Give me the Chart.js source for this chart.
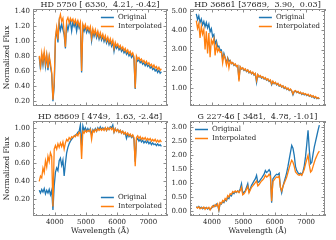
<!DOCTYPE html>
<html>
<head>
<meta charset="utf-8">
<script src="https://cdn.jsdelivr.net/npm/chart.js@4.4.1/dist/chart.umd.min.js"></script>
<style>
  html, body { margin: 0; padding: 0; background: #fff; }
  #wrap { position: relative; width: 336px; height: 240px; overflow: hidden; }
  .panel { position: absolute; }
</style>
</head>
<body>
<div id="wrap">
  <div class="panel" style="left:0;top:0;width:168px;height:120px"><canvas id="c1"></canvas></div>
  <div class="panel" style="left:168px;top:0;width:168px;height:120px"><canvas id="c2"></canvas></div>
  <div class="panel" style="left:0;top:110px;width:168px;height:130px"><canvas id="c3"></canvas></div>
  <div class="panel" style="left:168px;top:110px;width:168px;height:130px"><canvas id="c4"></canvas></div>
</div>
<script>
// wavelength grid (Angstrom)
const wavelength = [
  3500,3540,3580,3620,3660,3700,3740,3780,3820,3860,
  3900,3940,3980,4020,4060,4100,4140,4180,4220,4260,
  4300,4340,4380,4420,4460,4500,4540,4580,4620,4660,
  4700,4740,4780,4820,4860,4900,4940,4980,5020,5060,
  5100,5140,5180,5220,5260,5300,5340,5380,5420,5460,
  5500,5540,5580,5620,5660,5700,5740,5780,5820,5860,
  5900,5940,5980,6020,6060,6100,6140,6180,6220,6260,
  6300,6340,6380,6420,6460,6500,6540,6580,6620,6660,
  6700,6740,6780,6820,6860,6900,6940,6980,7020,7060,
  7100,7140,7180,7220,7260,7300,7340,7380,7420
];

// HD 5750
const hd5750Orig = [
  0.78,0.62,0.82,0.68,0.84,0.66,0.80,0.61,0.78,0.66,
  0.56,0.20,0.40,1.02,1.15,0.98,1.24,1.14,1.22,1.15,
  1.08,0.90,1.22,1.14,1.22,1.26,1.13,1.25,1.19,1.24,
  1.13,1.24,1.17,1.22,0.58,1.19,1.13,1.19,1.11,1.16,
  1.11,1.16,1.00,1.13,1.06,1.12,1.04,1.10,1.02,1.08,
  1.01,1.06,0.99,1.04,0.97,1.02,0.95,1.00,0.93,0.98,
  0.86,0.95,0.90,0.93,0.88,0.91,0.86,0.89,0.84,0.87,
  0.82,0.85,0.80,0.83,0.78,0.81,0.76,0.36,0.77,0.73,
  0.75,0.71,0.73,0.69,0.71,0.67,0.70,0.66,0.68,0.64,
  0.66,0.62,0.64,0.60,0.62,0.58,0.61,0.57,0.59
];
const hd5750Interp = [
  0.80,0.66,0.84,0.72,0.86,0.70,0.82,0.64,0.80,0.70,
  0.58,0.22,0.45,1.05,1.18,1.02,1.28,1.35,1.26,1.30,
  1.12,0.92,1.27,1.31,1.24,1.30,1.26,1.29,1.23,1.28,
  1.22,1.27,1.20,1.25,0.60,1.22,1.17,1.22,1.15,1.19,
  1.14,1.19,1.04,1.16,1.09,1.15,1.07,1.13,1.05,1.11,
  1.04,1.09,1.02,1.07,1.00,1.05,0.98,1.03,0.96,1.01,
  0.90,0.98,0.93,0.96,0.91,0.94,0.89,0.92,0.87,0.90,
  0.85,0.88,0.83,0.86,0.81,0.84,0.79,0.37,0.80,0.76,
  0.78,0.74,0.76,0.72,0.74,0.70,0.73,0.69,0.71,0.67,
  0.69,0.65,0.68,0.64,0.66,0.62,0.65,0.61,0.63
];

// HD 36861
const hd36861Orig = [
  4.85,4.55,4.75,4.40,4.58,4.28,4.45,4.18,4.40,4.12,
  4.32,3.92,4.08,3.68,3.78,3.28,3.45,3.15,3.18,2.95,
  2.98,2.50,2.80,2.58,2.30,2.58,2.40,2.44,2.27,2.32,
  2.18,2.24,2.12,2.16,1.45,2.10,1.99,2.04,1.92,1.98,
  1.86,1.93,1.80,1.87,1.74,1.81,1.68,1.75,1.30,1.69,
  1.58,1.63,1.52,1.58,1.47,1.52,1.41,1.46,1.35,1.40,
  1.18,1.34,1.23,1.29,1.17,1.23,1.11,1.17,1.05,1.11,
  0.99,1.05,0.93,0.99,0.88,0.94,0.85,0.66,0.82,0.86,
  0.77,0.82,0.73,0.78,0.68,0.74,0.66,0.70,0.62,0.67,
  0.58,0.63,0.54,0.59,0.48,0.55,0.46,0.50,0.44
];
const hd36861Interp = [
  4.50,4.10,4.35,3.60,4.20,3.80,4.05,3.00,3.95,2.80,
  3.85,2.60,3.50,3.30,3.55,2.70,3.25,2.90,3.05,2.85,
  2.88,2.30,2.72,2.55,2.20,2.50,2.05,2.42,2.28,2.33,
  2.20,2.26,2.13,2.18,1.35,2.11,2.00,2.06,1.94,2.00,
  1.88,1.95,1.82,1.89,1.76,1.83,1.70,1.77,1.40,1.71,
  1.60,1.66,1.55,1.60,1.49,1.55,1.43,1.49,1.37,1.43,
  1.22,1.36,1.25,1.31,1.19,1.25,1.13,1.19,1.07,1.13,
  1.01,1.07,0.95,1.01,0.90,0.96,0.87,0.70,0.84,0.88,
  0.79,0.84,0.75,0.80,0.70,0.76,0.68,0.72,0.64,0.69,
  0.60,0.65,0.56,0.61,0.52,0.57,0.48,0.52,0.46
];

// HD 88609
const hd88609Orig = [
  0.30,0.27,0.31,0.28,0.32,0.26,0.30,0.27,0.31,0.25,
  0.30,0.08,0.35,0.50,0.55,0.52,0.63,0.66,0.58,0.64,
  0.46,0.60,0.72,0.78,0.82,0.85,0.87,0.89,0.90,0.92,
  0.92,0.95,0.96,1.03,0.80,1.02,0.97,1.00,0.96,0.99,
  0.96,0.99,0.92,0.98,0.96,0.99,0.96,1.00,0.98,1.01,
  0.98,1.00,0.98,1.00,0.97,1.00,0.98,1.01,1.00,1.03,
  0.95,0.99,0.96,0.98,0.95,0.97,0.94,0.96,0.93,0.94,
  0.88,0.93,0.90,0.92,0.89,0.91,0.87,0.62,0.86,0.88,
  0.85,0.87,0.84,0.86,0.83,0.85,0.83,0.85,0.82,0.84,
  0.81,0.83,0.81,0.82,0.80,0.82,0.80,0.81,0.79
];
const hd88609Interp = [
  0.40,0.46,0.44,0.55,0.50,0.63,0.56,0.68,0.62,0.72,
  0.68,0.12,0.76,0.80,0.76,0.82,0.78,0.83,0.79,0.84,
  0.76,0.83,0.87,0.85,0.89,0.87,0.90,0.89,0.91,0.90,
  0.93,0.91,0.95,0.93,0.65,0.96,0.94,0.97,0.95,0.97,
  0.96,0.98,0.87,0.97,0.95,0.98,0.96,0.99,0.97,0.99,
  0.97,0.99,0.97,1.00,0.97,1.00,0.98,1.00,0.98,1.00,
  0.95,0.99,0.96,0.98,0.95,0.97,0.94,0.96,0.93,0.95,
  0.92,0.94,0.91,0.93,0.90,0.92,0.89,0.57,0.89,0.91,
  0.88,0.90,0.87,0.89,0.87,0.89,0.86,0.88,0.86,0.88,
  0.85,0.87,0.85,0.87,0.84,0.86,0.84,0.86,0.84
];

// G 227-46
const g22746Orig = [
  0.15,0.12,0.16,0.10,0.14,0.08,0.12,0.09,0.13,0.07,
  0.11,0.05,0.10,0.15,0.20,0.17,0.25,0.22,0.02,0.28,
  0.25,0.34,0.30,0.40,0.36,0.48,0.44,0.58,0.54,0.66,
  0.62,0.70,0.66,0.72,0.68,0.80,0.98,0.62,0.68,0.72,
  0.85,0.98,0.70,0.80,0.92,1.00,1.08,1.15,1.28,1.02,
  1.05,1.12,1.18,1.25,1.32,1.45,1.38,1.42,1.48,1.40,
  0.30,1.15,1.22,1.28,1.32,1.30,1.35,0.85,0.65,0.88,
  1.05,1.20,1.38,1.60,1.85,2.10,2.35,2.25,2.00,1.60,
  1.45,1.38,1.32,1.36,1.30,1.42,1.62,1.95,2.40,2.90,
  2.20,1.70,1.75,2.05,2.30,2.50,2.70,2.90,3.08
];
const g22746Interp = [
  0.14,0.10,0.15,0.08,0.12,0.10,0.14,0.06,0.12,0.09,
  0.13,0.04,0.12,0.18,0.14,0.22,0.18,0.26,0.05,0.30,
  0.26,0.38,0.33,0.45,0.40,0.55,0.50,0.62,0.60,0.70,
  0.66,0.72,0.68,0.72,0.66,0.74,0.85,0.58,0.62,0.68,
  0.78,0.88,0.65,0.75,0.85,0.90,0.96,1.02,1.08,0.90,
  0.95,1.02,1.08,1.12,1.18,1.28,1.22,1.25,1.32,1.25,
  0.35,1.05,1.12,1.18,1.22,1.20,1.25,0.85,0.72,0.88,
  1.00,1.10,1.22,1.38,1.55,1.70,1.82,1.75,1.60,1.40,
  1.35,1.30,1.28,1.32,1.28,1.38,1.50,1.68,1.85,2.00,
  1.65,1.40,1.45,1.60,1.75,1.88,1.98,2.08,2.15
];

// tick labels
const xTicks = [4000, 5000, 6000, 7000];
const yTicks5750 = [0.2, 0.4, 0.6, 0.8, 1.0, 1.2, 1.4];
const yTicks36861 = [1, 2, 3, 4, 5];
const yTicks88609 = [0.2, 0.4, 0.6, 0.8, 1.0];
const yTicks22746 = [0.0, 0.5, 1.0, 1.5, 2.0, 2.5, 3.0];

const BLUE = '#1f77b4';
const ORANGE = '#ff7f0e';
const TEXT = '#262626';
const FRAME = '#8c8c8c';
const SERIF = '"DejaVu Serif", serif';

// frame + inward ticks (major and minor) on all four sides, plus the panel title
const frameTicks = {
    id: 'frameTicks',
    afterDatasetsDraw(chart, args, o) {
        const { ctx, chartArea: a, scales: { x, y } } = chart;
        ctx.save();
        ctx.strokeStyle = FRAME;
        ctx.lineWidth = 1;
        ctx.beginPath();
        const marks = (scale, vals, len, isX) => {
            vals.forEach(v => {
                const p = Math.round(scale.getPixelForValue(v)) + 0.5;
                if (isX) {
                    ctx.moveTo(p, a.bottom); ctx.lineTo(p, a.bottom - len);
                    ctx.moveTo(p, a.top); ctx.lineTo(p, a.top + len);
                } else {
                    ctx.moveTo(a.left, p); ctx.lineTo(a.left + len, p);
                    ctx.moveTo(a.right, p); ctx.lineTo(a.right - len, p);
                }
            });
        };
        const minors = (scale, step) => {
            const out = [];
            for (let v = Math.ceil(scale.min / step) * step; v <= scale.max; v += step) out.push(v);
            return out;
        };
        marks(x, minors(x, o.xMinor), 2, true);
        marks(y, minors(y, o.yMinor), 2, false);
        marks(x, xTicks, 3.5, true);
        marks(y, o.yMajor, 3.5, false);
        ctx.stroke();
        ctx.strokeRect(Math.round(a.left) + 0.5, Math.round(a.top) + 0.5,
            Math.round(a.right - a.left) - 1, Math.round(a.bottom - a.top) - 1);

        ctx.fillStyle = TEXT;
        ctx.font = '8px ' + SERIF;
        ctx.textAlign = 'center';
        ctx.textBaseline = 'middle';
        ctx.fillText(o.title, (a.left + a.right) / 2, a.top - 4.5);
        ctx.restore();
    }
};

// legend drawn inside the axes
const innerLegend = {
    id: 'innerLegend',
    afterDraw(chart, args, o) {
        const { ctx, chartArea: a } = chart;
        ctx.save();
        ctx.font = '7px ' + SERIF;
        const w = ctx.measureText('Interpolated').width;
        const textX = o.corner === 'tl' ? a.left + 22 : a.right - 5 - w;
        const rowY = o.corner === 'br' ? a.bottom - 19 : a.top + 7.5;
        chart.data.datasets.forEach((ds, i) => {
            const yy = Math.round(rowY + i * 9) + 0.5;
            ctx.strokeStyle = ds.borderColor;
            ctx.lineWidth = 1.5;
            ctx.beginPath();
            ctx.moveTo(textX - 17, yy);
            ctx.lineTo(textX - 4, yy);
            ctx.stroke();
            ctx.fillStyle = TEXT;
            ctx.textBaseline = 'middle';
            ctx.fillText(ds.label, textX, yy);
        });
        ctx.restore();
    }
};

function makePanel(id, p) {
    const el = document.getElementById(id);
    if (!el) return;
    return new Chart(el.getContext('2d'), {
        type: 'line',
        data: {
            labels: wavelength,
            datasets: [
                { label: 'Original', data: p.orig, borderColor: BLUE, order: 1 },
                { label: 'Interpolated', data: p.interp, borderColor: ORANGE, order: 0 }
            ]
        },
        options: {
            responsive: true,
            maintainAspectRatio: false,
            animation: false,
            events: [],
            layout: { padding: p.pad },
            elements: {
                point: { radius: 0 },
                line: { borderWidth: 1.3, tension: 0 }
            },
            scales: {
                x: {
                    type: 'linear',
                    min: 3300,
                    max: 7600,
                    display: p.bottomRow,
                    grid: { display: false, drawTicks: false },
                    border: { display: false },
                    afterBuildTicks: s => { s.ticks = xTicks.map(v => ({ value: v })); },
                    afterFit: s => { s.height = p.bottomRow ? 24 : 0; },
                    ticks: {
                        autoSkip: false,
                        maxRotation: 0,
                        padding: 2,
                        color: TEXT,
                        font: { family: SERIF, size: 7 },
                        callback: v => String(v)
                    },
                    title: {
                        display: p.bottomRow,
                        text: 'Wavelength (Å)',
                        color: TEXT,
                        font: { family: SERIF, size: 7.5 },
                        padding: { top: 0, bottom: 4 }
                    }
                },
                y: {
                    min: p.yMin,
                    max: p.yMax,
                    grid: { display: false, drawTicks: false },
                    border: { display: false },
                    afterBuildTicks: s => { s.ticks = p.yMajor.map(v => ({ value: v })); },
                    afterFit: s => { s.width = p.yWidth; },
                    ticks: {
                        padding: 3,
                        color: TEXT,
                        font: { family: SERIF, size: 7 },
                        callback: v => Number(v).toFixed(2)
                    },
                    title: {
                        display: p.leftCol,
                        text: 'Normalized Flux',
                        color: TEXT,
                        font: { family: SERIF, size: 7.5 },
                        padding: { top: 1.5, bottom: 0 }
                    }
                }
            },
            plugins: {
                legend: { display: false },
                tooltip: { enabled: false },
                title: { display: false },
                frameTicks: { xMinor: 200, yMinor: p.yMinor, yMajor: p.yMajor, title: p.title },
                innerLegend: { corner: p.corner }
            }
        },
        plugins: [frameTicks, innerLegend]
    });
}

makePanel('c1', {
    title: 'HD 5750 [ 6330,  4.21, -0.42]',
    orig: hd5750Orig, interp: hd5750Interp,
    yMin: 0.135, yMax: 1.423, yMajor: yTicks5750, yMinor: 0.05,
    pad: { left: 1, top: 9, right: 1, bottom: 14 }, yWidth: 32,
    bottomRow: false, leftCol: true, corner: 'tr'
});
makePanel('c2', {
    title: 'HD 36861 [37689,  3.90,  0.03]',
    orig: hd36861Orig, interp: hd36861Interp,
    yMin: 0.08, yMax: 5.10, yMajor: yTicks36861, yMinor: 0.2,
    pad: { left: 1, top: 9, right: 11, bottom: 14 }, yWidth: 21,
    bottomRow: false, leftCol: false, corner: 'tr'
});
makePanel('c3', {
    title: 'HD 88609 [ 4749,  1.63, -2.48]',
    orig: hd88609Orig, interp: hd88609Interp,
    yMin: 0.013, yMax: 1.075, yMajor: yTicks88609, yMinor: 0.05,
    pad: { left: 1, top: 11, right: 1, bottom: 0 }, yWidth: 32,
    bottomRow: true, leftCol: true, corner: 'br'
});
makePanel('c4', {
    title: 'G 227-46 [ 3481,  4.78, -1.01]',
    orig: g22746Orig, interp: g22746Interp,
    yMin: -0.18, yMax: 3.23, yMajor: yTicks22746, yMinor: 0.1,
    pad: { left: 1, top: 11, right: 11, bottom: 0 }, yWidth: 21,
    bottomRow: true, leftCol: false, corner: 'tl'
});
</script>
</body>
</html>
